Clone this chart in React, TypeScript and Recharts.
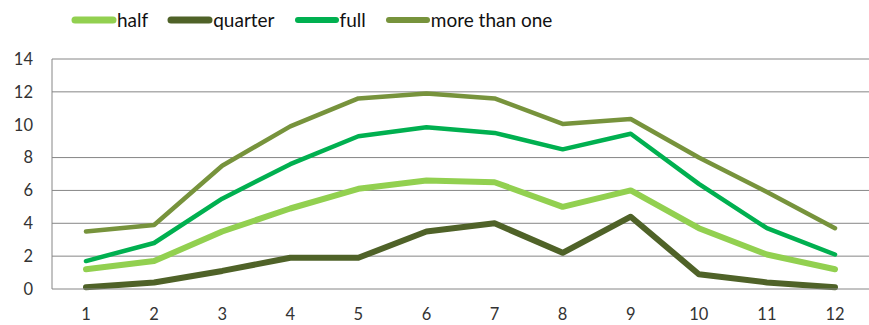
import { LineChart, Line, XAxis, YAxis, ReferenceLine, Legend } from 'recharts'

const months = ['1', '2', '3', '4', '5', '6', '7', '8', '9', '10', '11', '12']
const half = [1.2, 1.7, 3.5, 4.9, 6.1, 6.6, 6.5, 5.0, 6.0, 3.7, 2.1, 1.2]
const quarter = [0.1, 0.4, 1.1, 1.9, 1.9, 3.5, 4.0, 2.2, 4.4, 0.9, 0.4, 0.1]
const full = [1.7, 2.8, 5.5, 7.6, 9.3, 9.85, 9.5, 8.5, 9.45, 6.4, 3.7, 2.1]
const moreThanOne = [3.5, 3.9, 7.5, 9.9, 11.6, 11.9, 11.6, 10.05, 10.35, 8.0, 5.9, 3.7]
const yTicks = [0, 2, 4, 6, 8, 10, 12, 14]
const gridValues = [2, 4, 6, 8, 12, 14]

const series = [
  { key: 'half', color: '#92d050', width: 6, swatch: 7 },
  { key: 'quarter', color: '#4f6228', width: 6, swatch: 7 },
  { key: 'full', color: '#00b050', width: 4.5, swatch: 6 },
  { key: 'more than one', color: '#77933c', width: 4.5, swatch: 6 },
]

const data = months.map((m, i) => ({
  month: m,
  half: half[i],
  quarter: quarter[i],
  full: full[i],
  'more than one': moreThanOne[i],
}))

const font = 'Lato, "Open Sans", sans-serif'
const grey = '#868686'

function LegendRow() {
  return (
    <div style={{ display: 'flex', alignItems: 'center', height: 20, fontFamily: font, fontSize: 19, color: '#111' }}>
      {series.map(s => (
        <div key={s.key} style={{ display: 'flex', alignItems: 'center', marginRight: 19 }}>
          <svg width={46} height={10} style={{ display: 'block' }}>
            <line x1={4} y1={5} x2={42} y2={5} stroke={s.color} strokeWidth={s.swatch} strokeLinecap="round" />
          </svg>
          <span style={{ lineHeight: '20px' }}>{s.key}</span>
        </div>
      ))}
    </div>
  )
}

export default function App() {
  return (
    <div style={{ position: 'absolute', left: 0, top: 0, width: 869, height: 325, background: '#fff' }}>
      <LineChart width={869} height={325} data={data} margin={{ top: 39, right: 0, bottom: 0, left: 0 }}>
        {gridValues.map(v => (
          <ReferenceLine key={v} y={v} stroke={grey} strokeWidth={1} />
        ))}
        <XAxis
          dataKey="month"
          height={36}
          padding={{ left: 34, right: 34 }}
          axisLine={{ stroke: grey }}
          tickLine={false}
          tickSize={0}
          tickMargin={19}
          tick={{ fill: '#333', fontSize: 16.5, fontFamily: font }}
        />
        <YAxis
          width={52}
          domain={[0, 14]}
          ticks={yTicks}
          interval={0}
          axisLine={{ stroke: grey }}
          tickLine={false}
          tickSize={0}
          tickMargin={19}
          tick={{ fill: '#333', fontSize: 16.5, fontFamily: font }}
        />
        <Legend
          verticalAlign="top"
          align="left"
          wrapperStyle={{ top: 10, left: 71, width: 640, height: 20 }}
          content={() => <LegendRow />}
        />
        {series.map(s => (
          <Line
            key={s.key}
            dataKey={s.key}
            type="linear"
            stroke={s.color}
            strokeWidth={s.width}
            strokeLinecap="round"
            strokeLinejoin="round"
            dot={false}
            activeDot={false}
            isAnimationActive={false}
          />
        ))}
      </LineChart>
    </div>
  )
}
